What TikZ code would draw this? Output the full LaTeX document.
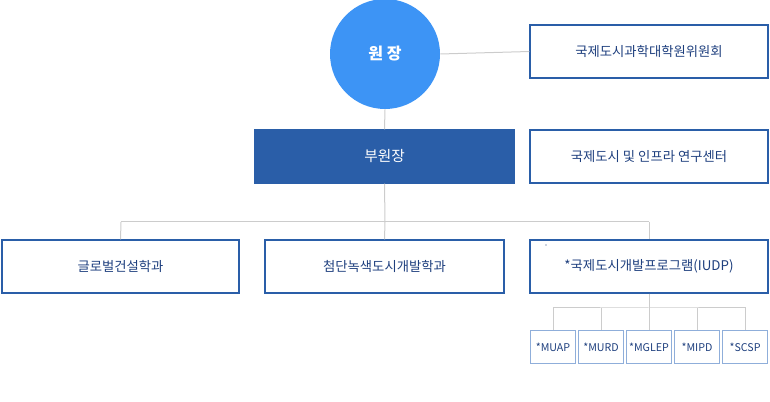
\documentclass[tikz,border=0pt]{standalone}
\usepackage{fontspec}
\setmainfont{Noto Sans CJK KR}
\definecolor{bd}{HTML}{2A5EA8}
\definecolor{tx}{HTML}{1E3F7E}
\definecolor{ln}{HTML}{CCCCCC}
\definecolor{cir}{HTML}{3D94F5}
\definecolor{sb}{HTML}{8FAEDA}
\tikzset{
 bx/.style={draw=bd,line width=0.9pt,minimum width=#1*0.75pt,minimum height=39.75pt,inner sep=0pt,text=tx,font=\fontsize{10}{12}\selectfont},
 sbx/.style={draw=sb,line width=1.2pt,minimum width=34pt,minimum height=25pt,inner sep=0pt,text=tx,font=\fontsize{8}{10}\selectfont},
 ln/.style={draw=ln,line width=0.75pt}
}
\begin{document}
\begin{tikzpicture}[x=0.75pt,y=-0.75pt]
\useasboundingbox (0,0) rectangle (770,402);
% connectors
\coordinate (j1) at (385,222);
\coordinate (jl) at (121,222);
\coordinate (jr) at (649,222);
\coordinate (k1) at (649,308);
\node[circle,fill=cir,minimum size=82.5pt,inner sep=0pt,text=white,font=\fontsize{12}{14}\selectfont\bfseries] (dir) at (385,54) {원 장};
\node[bx=238] (com) at (649,51.5) {국제도시과학대학원위원회};
\node[bx=259,fill=bd,draw=bd,text=white,font=\fontsize{11}{13}\selectfont] (vice) at (384.5,156.5) {부원장};
\node[bx=238] (inf) at (649,156.5) {국제도시 및 인프라 연구센터};
\node[bx=237] (a) at (120.5,266.5) {글로벌건설학과};
\node[bx=239] (b) at (384.5,266.5) {첨단녹색도시개발학과};
\node[bx=238] (c) at (649,266.5) {*국제도시개발프로그램(IUDP)};
\fill[tx] (546,245) circle (0.6);
\node[sbx] (s1) at (553,347) {*MUAP};
\node[sbx] (s2) at (601,347) {*MURD};
\node[sbx] (s3) at (649,347) {*MGLEP};
\node[sbx] (s4) at (697,347) {*MIPD};
\node[sbx] (s5) at (745,347) {*SCSP};
\begin{scope}[on background layer/.try]
\end{scope}
\draw[ln] (dir.east) -- (com.west);
\draw[ln] (dir.south) -- (vice.north);
\draw[ln] (vice.south) -- (j1);
\draw[ln] (jl) -- (jr);
\draw[ln] (jl) -- (a.north);
\draw[ln] (j1) -- (b.north);
\draw[ln] (jr) -- (c.north);
\draw[ln] (c.south) -- (k1);
\draw[ln] (s1.north) |- (k1) -| (s5.north);
\draw[ln] (s2.north) -- (s2.north |- k1);
\draw[ln] (s3.north) -- (k1);
\draw[ln] (s4.north) -- (s4.north |- k1);
\end{tikzpicture}
\end{document}
